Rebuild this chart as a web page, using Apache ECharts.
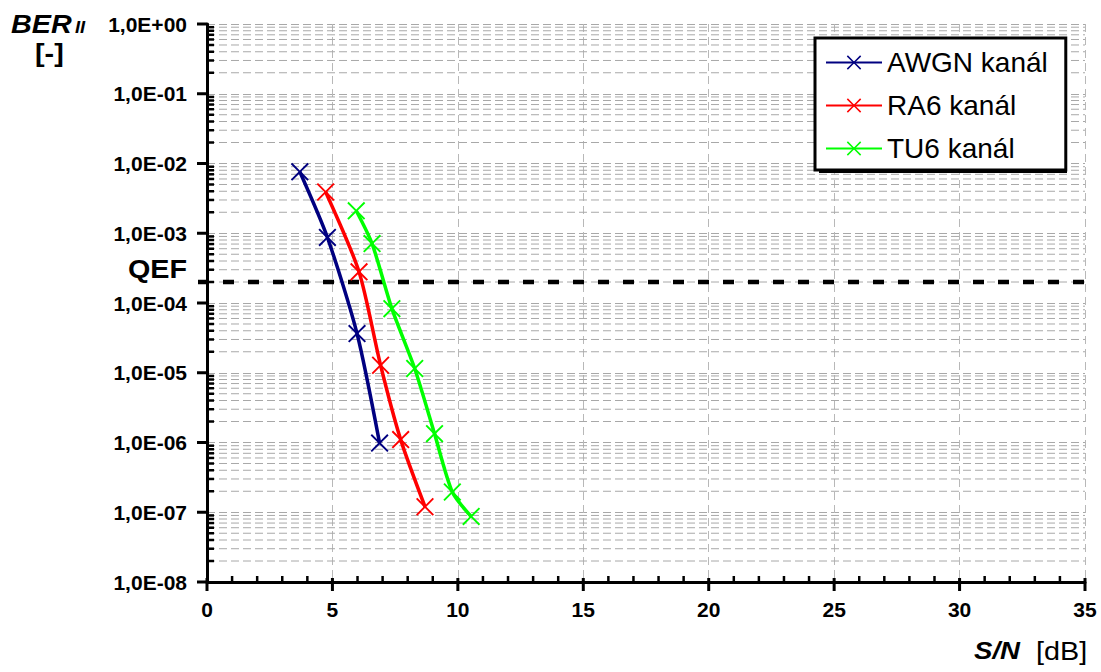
<!DOCTYPE html>
<html>
<head>
<meta charset="utf-8">
<script src="https://cdn.jsdelivr.net/npm/echarts@6/dist/echarts.min.js"></script>
<style>
html,body{margin:0;padding:0;background:#fff;}
#main{width:1101px;height:672px;}
</style>
</head>
<body>
<div id="main"></div>
<script>
// ---- data ----
var seriesNames = ['AWGN kanál', 'RA6 kanál', 'TU6 kanál'];
var awgnX = [3.7, 4.8, 5.98, 6.88];
var awgnY = [7.6e-3, 8.7e-4, 3.65e-5, 9.8e-7];
var ra6X = [4.73, 6.06, 6.92, 7.72, 8.69];
var ra6Y = [3.9e-3, 2.8e-4, 1.28e-5, 1.1e-6, 1.2e-7];
var tu6X = [5.95, 6.58, 7.37, 8.28, 9.07, 9.78, 10.53];
var tu6Y = [2.1e-3, 7.1e-4, 8.3e-5, 1.15e-5, 1.34e-6, 1.95e-7, 8.7e-8];
var qefValue = 2e-4;
var xMin = 0, xMax = 35, xStep = 5, xMinorStep = 1;
var yMin = 1e-8, yMax = 1;
var decadeExponents = [-8, -7, -6, -5, -4, -3, -2, -1, 0];
var minorMultipliers = [2, 3, 4, 5, 6, 7, 8, 9];

function pairs(xs, ys) { return xs.map(function (x, i) { return [x, ys[i]]; }); }

// tick / grid positions (data space)
var minorValues = [];
decadeExponents.slice(0, -1).forEach(function (e) {
  minorMultipliers.forEach(function (m) { minorValues.push([xMin, m * Math.pow(10, e)]); });
});
var yMajorTicks = decadeExponents.map(function (e) { return [xMin, Math.pow(10, e)]; });
var xTicks = [];
for (var t = xMin; t <= xMax; t += xMinorStep) xTicks.push([t, yMin, t % xStep === 0 ? 1 : 0]);

var xSymbol = 'path://M0,1.5L1.5,0L10,8.5L18.5,0L20,1.5L11.5,10L20,18.5L18.5,20L10,11.5L1.5,20L0,18.5L8.5,10Z';

function lineSeries(name, color, data) {
  return {
    name: name, type: 'line', data: data, smooth: 0.25,
    symbol: xSymbol, symbolSize: 18, symbolKeepAspect: true,
    lineStyle: { color: color, width: 3.5 },
    itemStyle: { color: color },
    z: 5
  };
}

var chart = echarts.init(document.getElementById('main'), null, { renderer: 'svg' });

var labelFont = { color: '#000', fontWeight: 'bold', fontSize: 21, fontFamily: 'Liberation Sans, Arial, sans-serif' };

function txt(x, y, text, font) {
  return { type: 'text', x: x, y: y, scaleX: 1.15, z: 30, style: { text: text, font: font, fill: '#000' } };
}

var option = {
  animation: false,
  backgroundColor: '#fff',
  grid: { left: 207, right: 16, top: 24, bottom: 90, containLabel: false },
  xAxis: {
    type: 'value', min: xMin, max: xMax, interval: xStep,
    axisLine: { show: true, onZero: false, lineStyle: { color: '#000', width: 3 } },
    axisTick: { show: false },
    axisLabel: Object.assign({ margin: 17 }, labelFont),
    splitLine: { show: true, lineStyle: { color: '#b8b8b8', type: [8, 5], width: 1 } }
  },
  yAxis: {
    type: 'log', logBase: 10, min: yMin, max: yMax, splitNumber: 8,
    axisLine: { show: true, onZero: false, lineStyle: { color: '#000', width: 3 } },
    axisTick: { show: false },
    axisLabel: Object.assign({
      margin: 20,
      formatter: function (v) {
        var ex = Math.round(Math.log(v) / Math.LN10);
        var s = String(Math.abs(ex)); if (s.length < 2) s = '0' + s;
        return '1,0E' + (ex < 0 ? '-' : '+') + s;
      }
    }, labelFont),
    splitLine: { show: true, lineStyle: { color: '#a8a8a8', type: [8, 4], width: 1 } }
  },
  legend: {
    data: seriesNames,
    orient: 'vertical', left: 815, top: 38,
    padding: [9, 18, 6, 10],
    itemWidth: 56, itemHeight: 18, itemGap: 12,
    backgroundColor: '#fff', borderColor: '#000', borderWidth: 3,
    textStyle: { color: '#000', fontSize: 28, lineHeight: 31, fontFamily: 'Liberation Sans, Arial, sans-serif' },
    z: 20
  },
  graphic: [
    { type: 'rect', left: 819, top: 42, z: 10, shape: { width: 248, height: 131 }, style: { fill: '#000' } },
    txt(11, 12, 'BER', 'italic bold 25px "Liberation Sans", Arial'),
    txt(75, 19, 'II', 'italic bold 16px "Liberation Sans", Arial'),
    txt(35, 41, '[-]', 'bold 25px "Liberation Sans", Arial'),
    txt(128, 257, 'QEF', 'bold 25px "Liberation Sans", Arial'),
    txt(974, 639, 'S/N', 'italic bold 24px "Liberation Sans", Arial'),
    txt(1036, 639, '[dB]', '25px "Liberation Sans", Arial')
  ],
  series: [
    {
      name: 'minorGrid', type: 'custom', data: minorValues, silent: true, z: 1, clip: false,
      encode: { x: 0, y: 1 },
      renderItem: function (params, api) {
        var v = api.value(1);
        var p0 = api.coord([xMin, v]);
        var p1 = api.coord([xMax, v]);
        return {
          type: 'group', children: [
            { type: 'line', shape: { x1: p0[0], y1: p0[1], x2: p1[0], y2: p1[1] },
              style: { stroke: '#a8a8a8', lineWidth: 1, lineDash: [8, 4] } },
            { type: 'line', shape: { x1: p0[0], y1: p0[1], x2: p0[0] + 7, y2: p0[1] },
              style: { stroke: '#000', lineWidth: 2.5 } }
          ]
        };
      }
    },
    {
      name: 'yTicks', type: 'custom', data: yMajorTicks, silent: true, z: 6, clip: false,
      encode: { x: 0, y: 1 },
      renderItem: function (params, api) {
        var p = api.coord([xMin, api.value(1)]);
        return { type: 'line', shape: { x1: p[0] - 10, y1: p[1], x2: p[0], y2: p[1] },
          style: { stroke: '#000', lineWidth: 3 } };
      }
    },
    {
      name: 'xTicks', type: 'custom', data: xTicks, silent: true, z: 6, clip: false,
      encode: { x: 0, y: 1 },
      renderItem: function (params, api) {
        var p = api.coord([api.value(0), yMin]);
        var major = api.value(2) === 1;
        return { type: 'line',
          shape: { x1: p[0], y1: major ? p[1] + 9 : p[1], x2: p[0], y2: p[1] - (major ? 4 : 6) },
          style: { stroke: '#000', lineWidth: major ? 3 : 2.5 } };
      }
    },
    {
      name: 'QEF', type: 'custom', data: [[xMin, qefValue]], silent: true, z: 4, clip: false,
      encode: { x: 0, y: 1 },
      renderItem: function (params, api) {
        var v = api.value(1);
        var p0 = api.coord([xMin, v]);
        var p1 = api.coord([xMax, v]);
        return { type: 'line', shape: { x1: p0[0] - 9, y1: p0[1], x2: p1[0], y2: p1[1] },
          style: { stroke: '#000', lineWidth: 4.5, lineDash: [11, 14] } };
      }
    },
    lineSeries(seriesNames[0], '#000080', pairs(awgnX, awgnY)),
    lineSeries(seriesNames[1], '#ff0000', pairs(ra6X, ra6Y)),
    lineSeries(seriesNames[2], '#00ff00', pairs(tu6X, tu6Y))
  ]
};
chart.setOption(option);
</script>
</body>
</html>
